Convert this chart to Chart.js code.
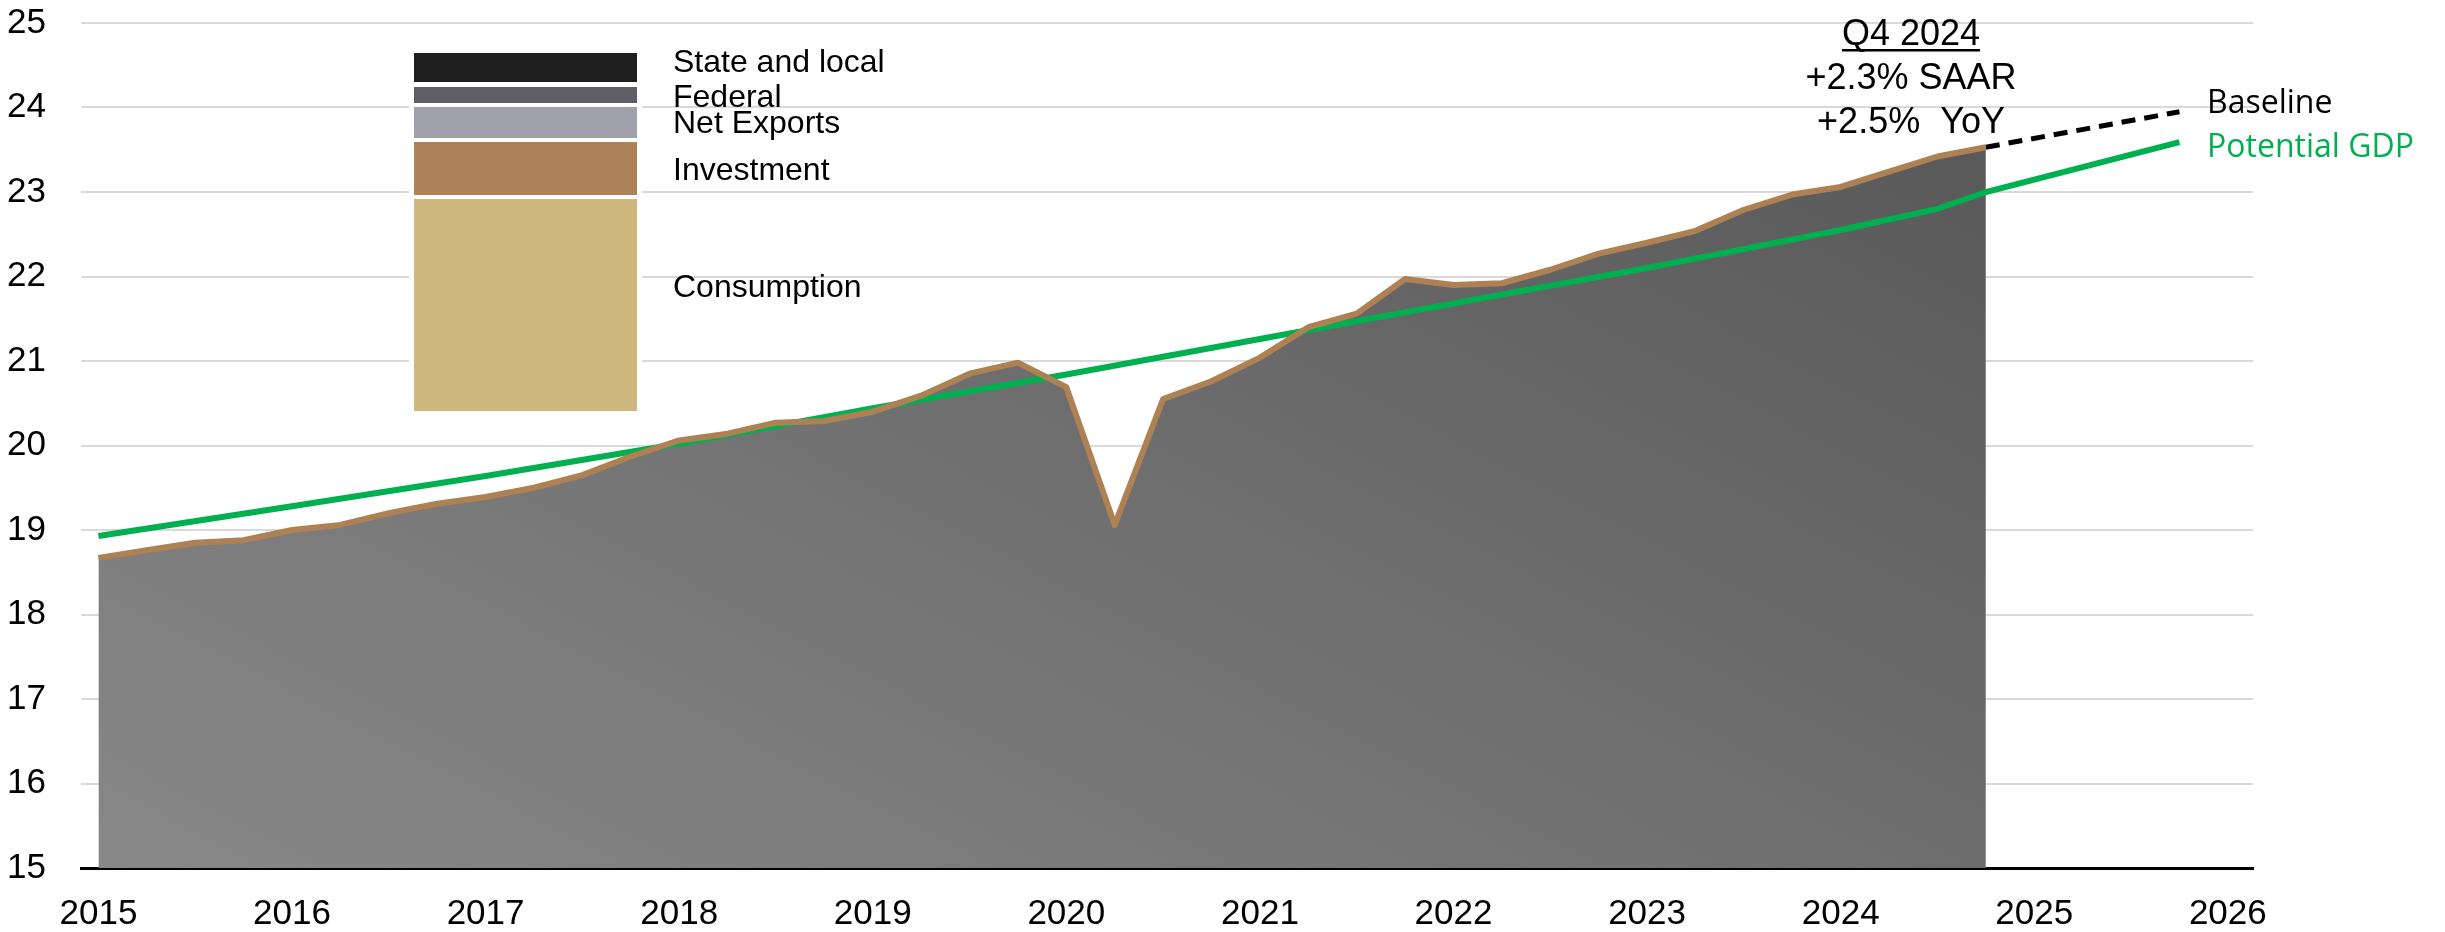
<!DOCTYPE html>
<html>
<head>
<meta charset="utf-8">
<script src="https://cdn.jsdelivr.net/npm/chart.js@4.4.1/dist/chart.umd.min.js"></script>
<style>
  html, body { margin: 0; padding: 0; background: #fff; }
</style>
</head>
<body>
<canvas id="gdpChart" width="2445" height="932"></canvas>
<script>
// x axis: year ticks
const yearTicks = [2015, 2016, 2017, 2018, 2019, 2020, 2021, 2022, 2023, 2024, 2025, 2026];

// real GDP, trillions, quarterly 2015 Q1 .. 2024 Q4
const firstQuarter = 2015;
const gdpValues = [
  18.67, 18.76, 18.85, 18.88,
  19.00, 19.06, 19.20, 19.31,
  19.39, 19.50, 19.65, 19.87,
  20.06, 20.14, 20.27, 20.29,
  20.40, 20.59, 20.85, 20.98,
  20.69, 19.06, 20.55, 20.76,
  21.04, 21.40, 21.56, 21.97,
  21.90, 21.92, 22.08, 22.27,
  22.40, 22.54, 22.79, 22.97,
  23.06, 23.24, 23.42, 23.53
];

// potential GDP
const potentialYears  = [2015, 2016, 2017, 2018, 2019, 2020, 2021, 2022, 2023, 2024, 2024.5, 2024.75, 2025.75];
const potentialValues = [18.93, 19.28, 19.64, 20.02, 20.44, 20.84, 21.26, 21.68, 22.10, 22.55, 22.80, 23.00, 23.59];

// baseline projection
const baselineYears  = [2024.75, 2025.75];
const baselineValues = [23.53, 23.95];

// component legend
const componentNames  = ['State and local', 'Federal', 'Net Exports', 'Investment', 'Consumption'];
const componentColors = ['#1f1f1f', '#5f5e64', '#a0a1ab', '#ae8258', '#cfb87e'];

const gdpPoints = gdpValues.map((v, i) => ({ x: firstQuarter + i / 4, y: v }));
const potentialPoints = potentialYears.map((x, i) => ({ x: x, y: potentialValues[i] }));
const baselinePoints = baselineYears.map((x, i) => ({ x: x, y: baselineValues[i] }));

const FONT = 'Liberation Sans, Arial, sans-serif';

function areaGradient(context) {
  const chart = context.chart;
  const area = chart.chartArea;
  if (!area) return '#777';
  const g = chart.ctx.createLinearGradient(103, 868, 988, -841);
  g.addColorStop(0, '#888888');
  g.addColorStop(1, '#4c4c4c');
  return g;
}

const decorations = {
  id: 'decorations',
  beforeDatasetDraw(chart, args) {
    if (args.index === 3) {
      const ctx = chart.ctx;
      ctx.save();
      ctx.shadowColor = 'rgba(0,0,0,0.35)';
      ctx.shadowBlur = 7;
      ctx.shadowOffsetX = 2;
      ctx.shadowOffsetY = 1;
    }
  },
  afterDatasetDraw(chart, args) {
    if (args.index === 3) chart.ctx.restore();
  },
  beforeDatasetsDraw(chart) {
    const ctx = chart.ctx;
    ctx.save();
    // white backing that breaks the gridlines behind the component bar
    ctx.fillStyle = '#fff';
    ctx.fillRect(409, 46, 233, 370);
    const boxes = [[53, 82], [87, 103], [107, 138], [142, 195], [199, 411]];
    boxes.forEach((b, i) => {
      ctx.fillStyle = componentColors[i];
      ctx.fillRect(414, b[0], 223, b[1] - b[0]);
    });
    ctx.restore();
  },
  afterDraw(chart) {
    const ctx = chart.ctx;
    ctx.save();
    ctx.fillStyle = '#000';
    ctx.textBaseline = 'alphabetic';
    ctx.textAlign = 'left';
    ctx.font = '32px ' + FONT;
    const labelY = [72, 107, 133, 180, 297];
    componentNames.forEach((n, i) => ctx.fillText(n, 673, labelY[i]));

    ctx.textAlign = 'center';
    ctx.font = '36px ' + FONT;
    ctx.fillText('Q4 2024', 1911, 45);
    const w = ctx.measureText('Q4 2024').width;
    ctx.fillRect(1911 - w / 2, 49, w, 2.5);
    ctx.fillText('+2.3% SAAR', 1911, 89);
    ctx.fillText('+2.5%  YoY', 1911, 133);

    ctx.textAlign = 'left';
    ctx.font = '32px "Open Sans", "Noto Sans", sans-serif';
    ctx.fillText('Baseline', 2207, 113);
    ctx.fillStyle = '#00b050';
    ctx.fillText('Potential GDP', 2207, 157);
    ctx.restore();
  }
};

new Chart(document.getElementById('gdpChart'), {
  type: 'line',
  data: {
    datasets: [
      {
        label: 'GDP',
        data: gdpPoints,
        borderColor: '#ad8153',
        borderWidth: 6,
        borderJoinStyle: 'round',
        fill: false,
        order: 0
      },
      {
        label: 'Baseline',
        data: baselinePoints,
        borderColor: '#000',
        borderWidth: 5,
        borderDash: [14, 9],
        fill: false,
        order: 1
      },
      {
        label: 'Potential GDP',
        data: potentialPoints,
        borderColor: '#00b050',
        borderWidth: 6,
        fill: false,
        order: 1
      },
      {
        label: 'GDP area',
        data: gdpPoints,
        borderColor: 'rgba(0,0,0,0)',
        borderWidth: 0,
        backgroundColor: areaGradient,
        fill: 'start',
        order: 2
      }
    ]
  },
  options: {
    responsive: false,
    animation: false,
    layout: { padding: { top: 23, right: 192, left: 0, bottom: 0 } },
    elements: { point: { radius: 0 }, line: { tension: 0 } },
    plugins: { legend: { display: false }, tooltip: { enabled: false } },
    scales: {
      x: {
        type: 'linear',
        min: 2014.91,
        max: 2026.13,
        afterBuildTicks: s => { s.ticks = yearTicks.map(v => ({ value: v })); },
        afterFit: s => { s.height = 64; },
        grid: { display: false, drawTicks: false },
        border: { display: true, color: '#000', width: 3 },
        ticks: {
          autoSkip: false,
          maxRotation: 0,
          padding: 25,
          color: '#000',
          font: { family: FONT, size: 35 },
          callback: v => String(v)
        }
      },
      y: {
        min: 15,
        max: 25,
        afterFit: s => { s.width = 81; s.paddingTop = 0; s.paddingBottom = 0; },
        grid: { color: '#d9d9d9', lineWidth: 2, drawTicks: false },
        border: { display: false },
        ticks: {
          stepSize: 1,
          padding: 35,
          color: '#000',
          font: { family: FONT, size: 35 }
        }
      }
    }
  },
  plugins: [decorations]
});
</script>
</body>
</html>
